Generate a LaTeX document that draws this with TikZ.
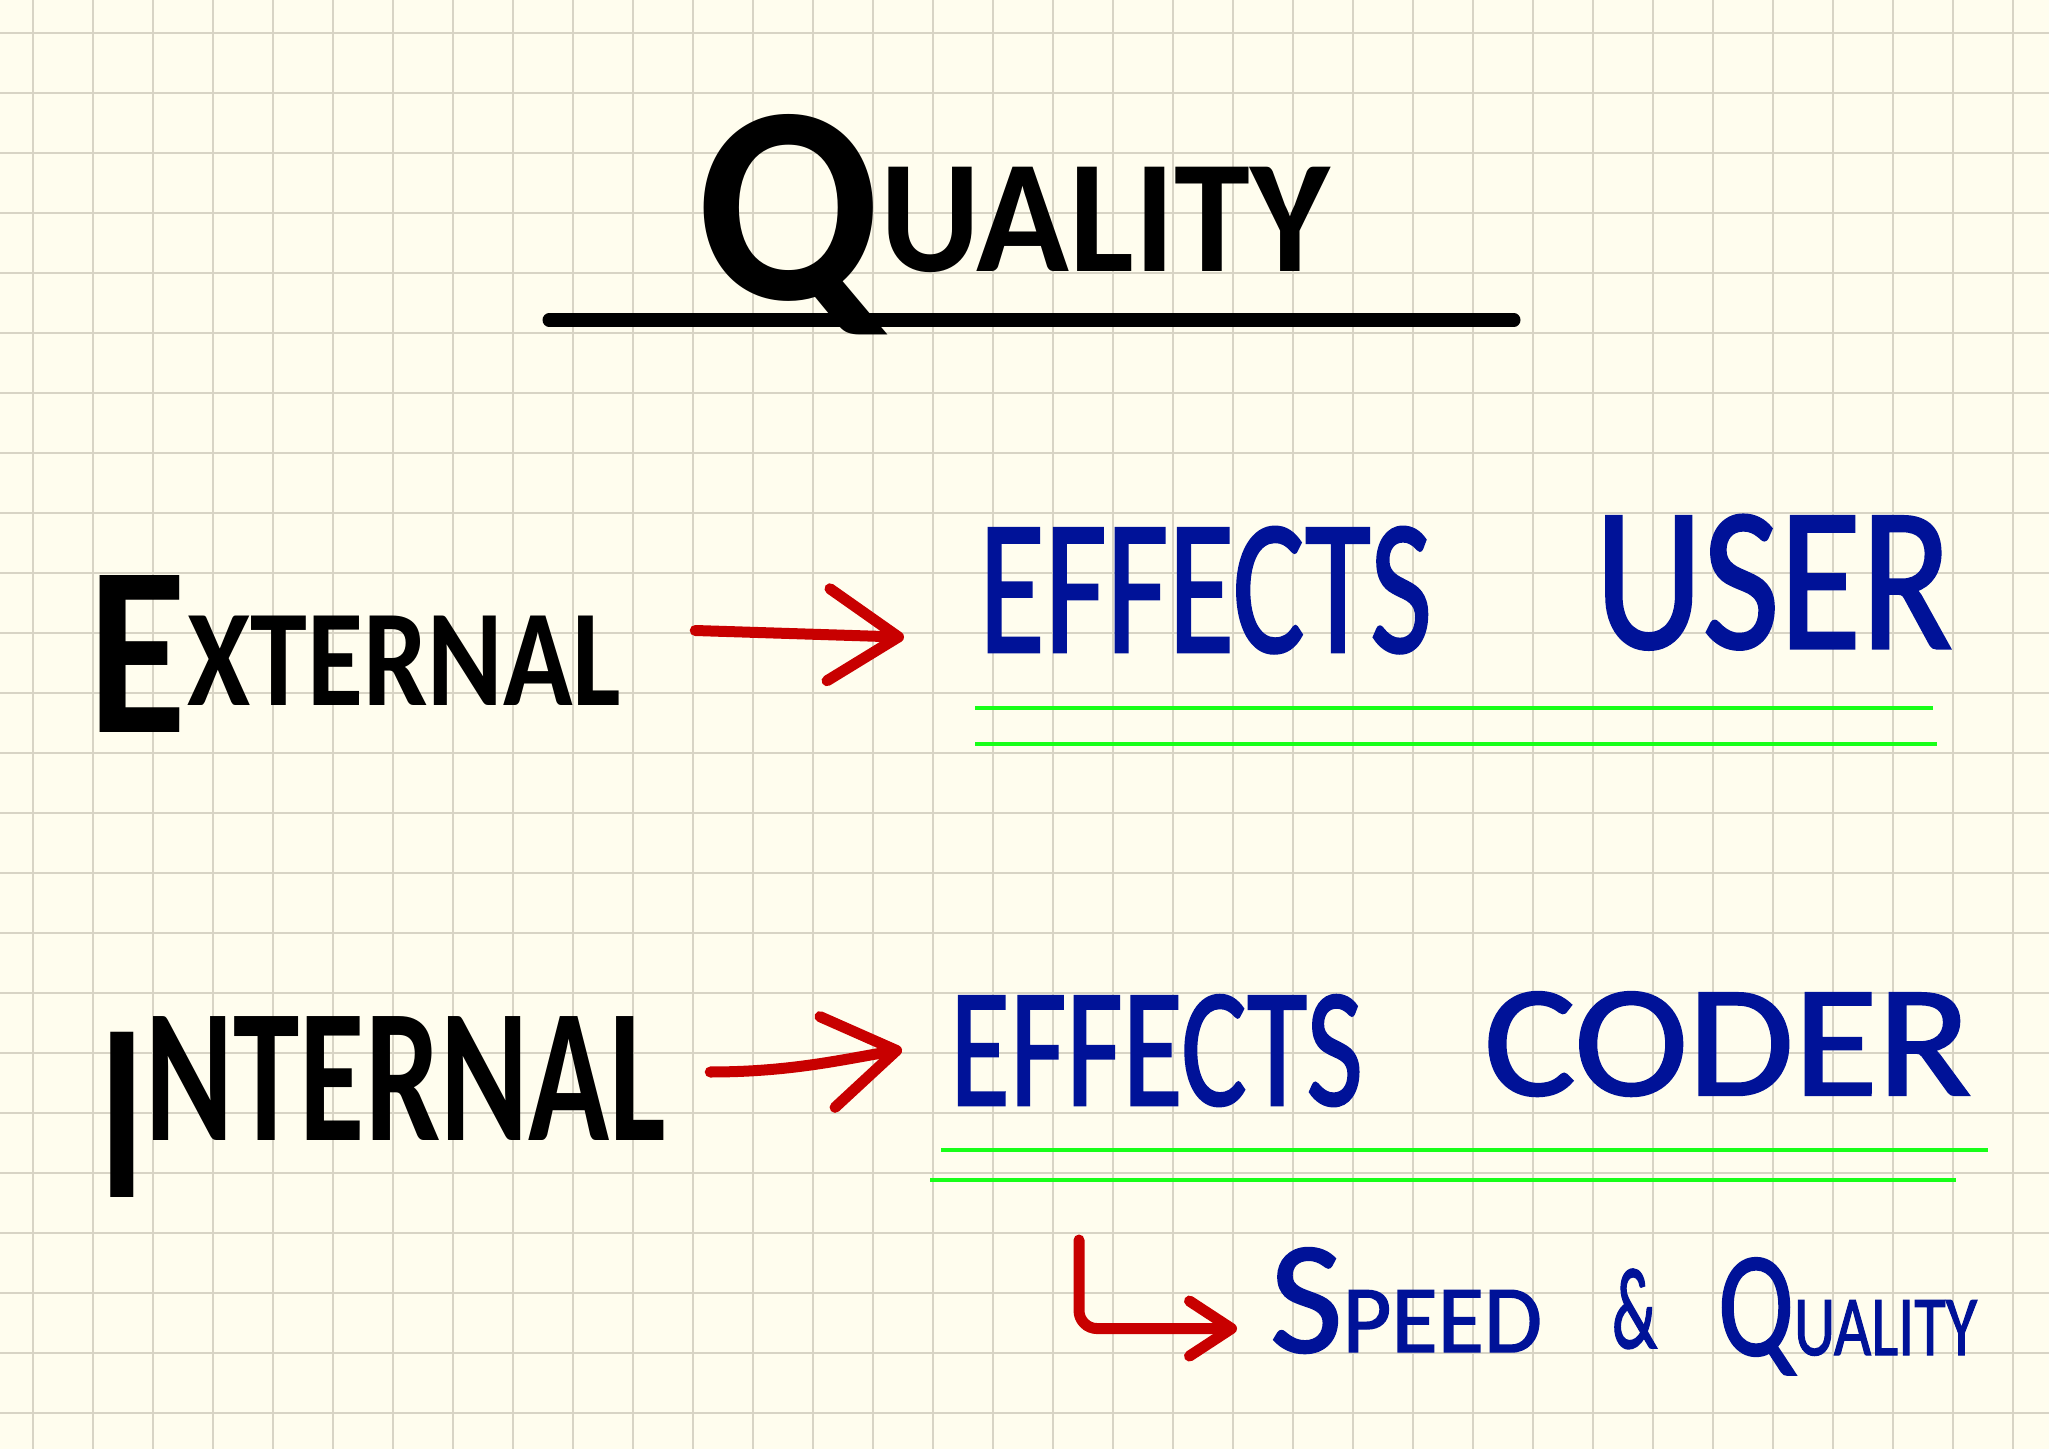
\documentclass[tikz,border=0pt]{standalone}
\usepackage{fontspec}
\setmainfont{Carlito}
\newfontfamily\penfont{Carlito}[FakeBold=1.5]
\usepackage{graphicx}
\usetikzlibrary{calc,arrows.meta}

\definecolor{paper}{RGB}{255,253,238}
\definecolor{gridgray}{RGB}{216,212,197}
\definecolor{inkblue}{RGB}{0,18,152}
\definecolor{inkred}{RGB}{200,0,0}
\definecolor{inkgreen}{RGB}{24,255,24}

\newlength{\pxu}
\setlength{\pxu}{0.01cm}
% squeeze a handwritten word into its box: width, height (px)
\newcommand{\fitword}[3]{\resizebox{#1\pxu}{#2\pxu}{#3}}

\tikzset{
  word/.style={inner sep=0pt, outer sep=0pt, anchor=base west},
  inkword/.style={word, text=black, font=\bfseries},
  blueword/.style={word, text=inkblue, font=\penfont},
  gridline/.style={gridgray, line width=0.022cm},
  greenline/.style={inkgreen, line width=0.035cm},
  redpen/.style={inkred, line width=0.11cm, line cap=round, line join=round},
  bigbarb/.style={-{Straight Barb[length=0.7cm,width=0.92cm,round]}},
  smallbarb/.style={-{Straight Barb[length=0.42cm,width=0.55cm,round]}}
}

\begin{document}
\begin{tikzpicture}[x=0.01cm, y=-0.01cm]
  % sheet with squared grid, 60px cells
  \useasboundingbox (0,0) rectangle (2049,1449);
  \fill[paper] (0,0) rectangle (2049,1449);
  \foreach \gx in {33,93,...,2013}
    \draw[gridline] (\gx,0) -- (\gx,1449);
  \foreach \gy in {33,93,...,1413}
    \draw[gridline] (0,\gy) -- (2049,\gy);

  % title
  \node[inkword] (title) at (696,300)
    {\fitword{634}{185}{Q\raisebox{0.1em}{\scalebox{0.57}{UALITY}}}};
  \draw[line width=0.13cm, line cap=round] (549,320) -- (1514,320);

  % external row
  \node[inkword] (ext) at (89,732)
    {\fitword{532}{157}{E\raisebox{0.11em}{\scalebox{0.57}{XTERNAL}}}};
  \node[blueword] (effa) at (979,652) {\fitword{453}{125}{EFFECTS}};
  \node[blueword] (user) at (1595,648) {\fitword{357}{133}{USER}};
  \draw[redpen, bigbarb] (ext.east) ++(74,-23) -- ($(effa.west)+(-75,47)$);
  \draw[greenline] (975,708) -- (1933,708);
  \draw[greenline] (975,744) -- (1937,744);

  % internal row
  \node[inkword] (int) at (98,1197)
    {\fitword{568}{180}{I\raisebox{0.22em}{\scalebox{0.75}{NTERNAL}}}};
  \node[blueword] (effb) at (950,1105) {\fitword{413}{110}{EFFECTS}};
  \node[blueword] (coder) at (1484,1095) {\fitword{487}{103}{CODER}};
  \draw[redpen, bigbarb] (int.east) ++(44,-35)
    .. controls +(80,0) and +(-60,10) .. ($(effb.west)+(-48,-1)$);
  \draw[greenline] (941,1150) -- (1988,1150);
  \draw[greenline] (930,1180) -- (1956,1180);

  % what it leads to
  \node[blueword] (speed) at (1270,1352) {\fitword{272}{104}{S\scalebox{0.6}{PEED}}};
  \node[blueword] (amp) at (1612,1348) {\fitword{45}{79}{\&}};
  \node[blueword] (qual) at (1718,1355) {\fitword{259}{97}{Q\scalebox{0.57}{UALITY}}};
  \coordinate (drop) at (1079,1240);
  \draw[redpen, smallbarb, rounded corners=0.18cm] (drop) |- ($(speed.west)+(-33,28)$);
\end{tikzpicture}
\end{document}
